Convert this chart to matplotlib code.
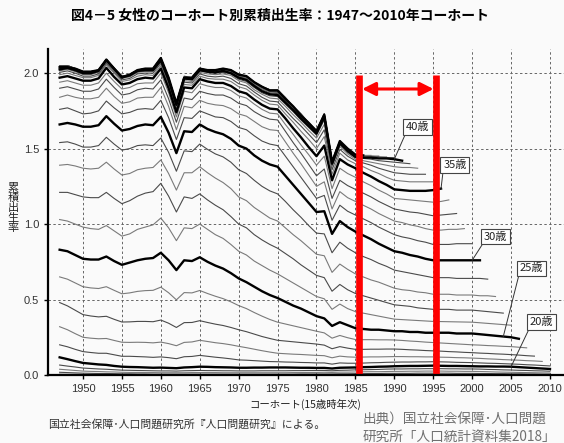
import matplotlib
matplotlib.use("Agg")
import matplotlib.pyplot as plt

# ============================================================
# DATOS: 累積出生率 por edad (una lista por edad, cohortes 1947-)
# ============================================================

cohort_years = list(range(1947, 2011))
x_ticks = list(range(1950, 2011, 5))
y_ticks = [0.0, 0.5, 1.0, 1.5, 2.0]

age15 = [0.002, 0.002, 0.001, 0.001, 0.001, 0.001, 0.001, 0.001, 0.001, 0.001,
         0.001, 0.001, 0.001, 0.001, 0.001, 0.001, 0.001, 0.001, 0.001, 0.001,
         0.001, 0.001, 0.001, 0.001, 0.001, 0.001, 0.001, 0.001, 0.001, 0.001,
         0.001, 0.001, 0.001, 0.001, 0.001, 0.001, 0.001, 0.001, 0.001, 0.001,
         0.001, 0.001, 0.001, 0.001, 0.001, 0.001, 0.001, 0.001, 0.001, 0.001,
         0.001, 0.001, 0.001, 0.001, 0.001, 0.001, 0.001, 0.001, 0.001, 0.001,
         0.001, 0.001, 0.001, 0.001]
age16 = [0.006, 0.005, 0.005, 0.004, 0.004, 0.004, 0.003, 0.003, 0.003, 0.003,
         0.003, 0.002, 0.002, 0.002, 0.002, 0.002, 0.002, 0.002, 0.002, 0.002,
         0.002, 0.002, 0.002, 0.002, 0.002, 0.002, 0.002, 0.002, 0.002, 0.002,
         0.002, 0.002, 0.002, 0.002, 0.002, 0.002, 0.003, 0.003, 0.003, 0.003,
         0.003, 0.003, 0.004, 0.004, 0.004, 0.004, 0.004, 0.004, 0.004, 0.004,
         0.004, 0.004, 0.004, 0.004, 0.004, 0.003, 0.003, 0.003, 0.003, 0.003,
         0.003, 0.002, 0.002, 0.002]
age17 = [0.018, 0.016, 0.014, 0.012, 0.011, 0.010, 0.010, 0.009, 0.008, 0.008,
         0.007, 0.007, 0.006, 0.006, 0.006, 0.006, 0.006, 0.006, 0.006, 0.006,
         0.006, 0.006, 0.006, 0.006, 0.006, 0.006, 0.006, 0.006, 0.006, 0.006,
         0.006, 0.007, 0.007, 0.007, 0.007, 0.007, 0.008, 0.008, 0.009, 0.009,
         0.010, 0.010, 0.011, 0.011, 0.011, 0.011, 0.012, 0.012, 0.012, 0.012,
         0.012, 0.011, 0.011, 0.011, 0.010, 0.010, 0.009, 0.009, 0.008, 0.008,
         0.007, 0.007, 0.006, 0.006]
age18 = [0.038, 0.034, 0.030, 0.026, 0.024, 0.023, 0.021, 0.020, 0.018, 0.017,
         0.017, 0.016, 0.016, 0.015, 0.015, 0.015, 0.015, 0.016, 0.016, 0.016,
         0.016, 0.015, 0.015, 0.015, 0.015, 0.015, 0.015, 0.015, 0.015, 0.015,
         0.016, 0.016, 0.017, 0.017, 0.018, 0.017, 0.019, 0.019, 0.020, 0.021,
         0.022, 0.022, 0.023, 0.024, 0.024, 0.025, 0.025, 0.026, 0.026, 0.026,
         0.025, 0.025, 0.024, 0.024, 0.023, 0.022, 0.020, 0.019, 0.018, 0.017,
         0.016, 0.015, 0.014, 0.013]
age19 = [0.066, 0.059, 0.053, 0.046, 0.043, 0.040, 0.038, 0.035, 0.032, 0.031,
         0.030, 0.029, 0.028, 0.027, 0.027, 0.026, 0.028, 0.029, 0.030, 0.029,
         0.029, 0.028, 0.028, 0.027, 0.027, 0.027, 0.028, 0.028, 0.028, 0.028,
         0.029, 0.029, 0.030, 0.030, 0.030, 0.028, 0.031, 0.032, 0.034, 0.035,
         0.036, 0.037, 0.039, 0.040, 0.040, 0.041, 0.041, 0.042, 0.042, 0.042,
         0.041, 0.041, 0.040, 0.040, 0.039, 0.037, 0.036, 0.034, 0.033, 0.031,
         0.030, 0.028, 0.027, 0.025]
age20 = [0.117, 0.105, 0.092, 0.080, 0.075, 0.070, 0.067, 0.060, 0.055, 0.053,
         0.052, 0.050, 0.048, 0.049, 0.047, 0.045, 0.050, 0.052, 0.055, 0.054,
         0.052, 0.051, 0.050, 0.048, 0.048, 0.049, 0.049, 0.050, 0.050, 0.050,
         0.049, 0.048, 0.048, 0.047, 0.047, 0.043, 0.048, 0.049, 0.050, 0.052,
         0.053, 0.055, 0.056, 0.058, 0.059, 0.060, 0.060, 0.061, 0.062, 0.061,
         0.060, 0.060, 0.059, 0.058, 0.057, 0.057, 0.056, 0.056, 0.055, 0.052,
         0.049, 0.046, 0.043, 0.040]
age21 = [0.200, 0.187, 0.170, 0.155, 0.149, 0.144, 0.144, 0.134, 0.124, 0.124,
         0.122, 0.120, 0.117, 0.120, 0.115, 0.108, 0.121, 0.123, 0.130, 0.124,
         0.118, 0.113, 0.107, 0.100, 0.098, 0.095, 0.092, 0.089, 0.088, 0.086,
         0.085, 0.083, 0.082, 0.080, 0.080, 0.072, 0.080, 0.078, 0.078, 0.079,
         0.081, 0.082, 0.084, 0.085, 0.086, 0.086, 0.087, 0.087, 0.088, 0.087,
         0.086, 0.084, 0.083, 0.082, 0.080, 0.078, 0.077, 0.075, 0.073, 0.071,
         0.068, 0.066, 0.063, 0.060]
age22 = [0.320, 0.300, 0.274, 0.250, 0.244, 0.240, 0.242, 0.229, 0.217, 0.216,
         0.217, 0.216, 0.213, 0.218, 0.208, 0.194, 0.216, 0.219, 0.230, 0.222,
         0.214, 0.208, 0.200, 0.190, 0.181, 0.171, 0.161, 0.152, 0.144, 0.141,
         0.138, 0.136, 0.133, 0.130, 0.128, 0.114, 0.125, 0.120, 0.118, 0.119,
         0.120, 0.120, 0.121, 0.122, 0.122, 0.121, 0.121, 0.120, 0.120, 0.118,
         0.117, 0.115, 0.114, 0.112, 0.110, 0.107, 0.105, 0.102, 0.100, 0.098,
         0.095, 0.093, 0.090]
age23 = [0.480, 0.458, 0.429, 0.400, 0.391, 0.385, 0.389, 0.369, 0.351, 0.352,
         0.355, 0.355, 0.353, 0.364, 0.343, 0.315, 0.347, 0.348, 0.360, 0.348,
         0.337, 0.328, 0.315, 0.300, 0.287, 0.271, 0.255, 0.242, 0.230, 0.225,
         0.220, 0.215, 0.210, 0.205, 0.198, 0.174, 0.188, 0.178, 0.170, 0.170,
         0.171, 0.171, 0.172, 0.172, 0.170, 0.167, 0.165, 0.162, 0.160, 0.158,
         0.155, 0.153, 0.150, 0.148, 0.145, 0.143, 0.140, 0.138, 0.135, 0.132,
         0.128, 0.125]
age24 = [0.650, 0.635, 0.610, 0.585, 0.577, 0.573, 0.585, 0.561, 0.538, 0.544,
         0.554, 0.559, 0.561, 0.582, 0.545, 0.498, 0.546, 0.544, 0.560, 0.540,
         0.522, 0.506, 0.485, 0.460, 0.440, 0.414, 0.390, 0.368, 0.350, 0.338,
         0.326, 0.314, 0.302, 0.290, 0.279, 0.244, 0.262, 0.247, 0.235, 0.234,
         0.234, 0.233, 0.233, 0.232, 0.229, 0.225, 0.222, 0.218, 0.215, 0.212,
         0.209, 0.206, 0.203, 0.200, 0.198, 0.195, 0.193, 0.190, 0.188, 0.184,
         0.180]
age25 = [0.83, 0.82, 0.795, 0.77, 0.765, 0.765, 0.785, 0.755, 0.73, 0.745,
         0.76, 0.77, 0.775, 0.81, 0.76, 0.695, 0.76, 0.755, 0.78, 0.75,
         0.725, 0.705, 0.675, 0.64, 0.615, 0.585, 0.555, 0.53, 0.51, 0.485,
         0.46, 0.44, 0.415, 0.39, 0.375, 0.325, 0.35, 0.33, 0.31, 0.305,
         0.30, 0.30, 0.295, 0.29, 0.29, 0.285, 0.285, 0.28, 0.28, 0.28,
         0.28, 0.275, 0.275, 0.275, 0.27, 0.265, 0.26, 0.255, 0.25, 0.24]
age26 = [1.03, 1.02, 1.0, 0.98, 0.97, 0.965, 0.99, 0.955, 0.92, 0.935,
         0.965, 0.98, 0.995, 1.04, 0.975, 0.89, 0.975, 0.97, 1.0, 0.965,
         0.93, 0.905, 0.865, 0.82, 0.795, 0.755, 0.725, 0.695, 0.67, 0.64,
         0.61, 0.58, 0.55, 0.52, 0.505, 0.435, 0.47, 0.44, 0.42, 0.41,
         0.40, 0.39, 0.38, 0.37, 0.367, 0.364, 0.361, 0.358, 0.355, 0.354,
         0.353, 0.352, 0.351, 0.35, 0.346, 0.342, 0.338, 0.334, 0.33]
age27 = [1.21, 1.21, 1.195, 1.18, 1.175, 1.175, 1.21, 1.17, 1.135, 1.155,
         1.185, 1.205, 1.215, 1.27, 1.185, 1.08, 1.18, 1.17, 1.20, 1.16,
         1.125, 1.095, 1.05, 1.00, 0.975, 0.93, 0.895, 0.865, 0.84, 0.805,
         0.77, 0.73, 0.695, 0.66, 0.645, 0.555, 0.60, 0.565, 0.54, 0.525,
         0.51, 0.495, 0.48, 0.465, 0.46, 0.455, 0.445, 0.44, 0.435, 0.435,
         0.435, 0.43, 0.43, 0.43, 0.425, 0.42, 0.415, 0.41]
age28 = [1.39, 1.395, 1.385, 1.37, 1.365, 1.37, 1.41, 1.365, 1.325, 1.335,
         1.36, 1.37, 1.375, 1.425, 1.335, 1.225, 1.34, 1.34, 1.38, 1.34,
         1.305, 1.275, 1.235, 1.18, 1.155, 1.11, 1.075, 1.04, 1.02, 0.975,
         0.93, 0.89, 0.845, 0.80, 0.79, 0.68, 0.735, 0.70, 0.67, 0.65,
         0.63, 0.615, 0.595, 0.575, 0.565, 0.56, 0.55, 0.545, 0.535, 0.535,
         0.535, 0.53, 0.53, 0.53, 0.525, 0.525, 0.52]
age29 = [1.54, 1.545, 1.53, 1.51, 1.51, 1.52, 1.575, 1.53, 1.49, 1.50,
         1.52, 1.525, 1.52, 1.57, 1.475, 1.35, 1.485, 1.48, 1.53, 1.495,
         1.465, 1.445, 1.41, 1.36, 1.335, 1.29, 1.25, 1.22, 1.20, 1.15,
         1.095, 1.045, 0.99, 0.94, 0.935, 0.81, 0.88, 0.84, 0.81, 0.785,
         0.765, 0.74, 0.72, 0.695, 0.685, 0.675, 0.665, 0.655, 0.645, 0.645,
         0.645, 0.64, 0.64, 0.64, 0.64, 0.635]
age30 = [1.66, 1.67, 1.66, 1.645, 1.645, 1.655, 1.715, 1.665, 1.62, 1.63,
         1.65, 1.66, 1.655, 1.71, 1.605, 1.47, 1.615, 1.61, 1.66, 1.63,
         1.61, 1.595, 1.565, 1.52, 1.50, 1.455, 1.42, 1.395, 1.38, 1.32,
         1.26, 1.20, 1.14, 1.08, 1.085, 0.935, 1.02, 0.98, 0.95, 0.925,
         0.90, 0.87, 0.845, 0.82, 0.81, 0.795, 0.785, 0.77, 0.76, 0.76,
         0.76, 0.76, 0.76, 0.76, 0.76]
age31 = [1.76, 1.77, 1.75, 1.73, 1.735, 1.75, 1.815, 1.77, 1.73, 1.74,
         1.76, 1.765, 1.76, 1.82, 1.705, 1.56, 1.705, 1.70, 1.75, 1.73,
         1.71, 1.705, 1.68, 1.64, 1.625, 1.585, 1.55, 1.53, 1.52, 1.45,
         1.38, 1.31, 1.24, 1.17, 1.19, 1.025, 1.125, 1.085, 1.06, 1.035,
         1.01, 0.98, 0.955, 0.93, 0.915, 0.905, 0.89, 0.88, 0.865, 0.865,
         0.865, 0.87, 0.87, 0.87]
age32 = [1.84, 1.855, 1.84, 1.83, 1.83, 1.84, 1.90, 1.845, 1.80, 1.81,
         1.835, 1.84, 1.84, 1.905, 1.78, 1.625, 1.78, 1.77, 1.82, 1.80,
         1.79, 1.785, 1.765, 1.73, 1.715, 1.68, 1.645, 1.625, 1.62, 1.545,
         1.47, 1.40, 1.325, 1.25, 1.28, 1.10, 1.215, 1.175, 1.15, 1.125,
         1.10, 1.07, 1.045, 1.02, 1.01, 0.995, 0.985, 0.97, 0.96, 0.96,
         0.965, 0.965, 0.97]
age33 = [1.90, 1.91, 1.895, 1.88, 1.88, 1.895, 1.96, 1.905, 1.855, 1.865,
         1.89, 1.90, 1.895, 1.955, 1.83, 1.675, 1.835, 1.825, 1.88, 1.865,
         1.855, 1.855, 1.835, 1.80, 1.785, 1.745, 1.715, 1.695, 1.69, 1.615,
         1.54, 1.47, 1.395, 1.32, 1.365, 1.17, 1.29, 1.255, 1.23, 1.205,
         1.18, 1.15, 1.125, 1.10, 1.09, 1.08, 1.075, 1.065, 1.055, 1.06,
         1.065, 1.07]
age34 = [1.94, 1.95, 1.935, 1.92, 1.92, 1.935, 2.0, 1.945, 1.895, 1.905,
         1.93, 1.935, 1.935, 2.0, 1.87, 1.71, 1.88, 1.87, 1.93, 1.915,
         1.905, 1.905, 1.885, 1.85, 1.835, 1.795, 1.76, 1.735, 1.73, 1.66,
         1.595, 1.525, 1.46, 1.39, 1.45, 1.235, 1.37, 1.335, 1.31, 1.28,
         1.255, 1.225, 1.20, 1.17, 1.165, 1.16, 1.155, 1.15, 1.145, 1.15,
         1.16]
age35 = [1.97, 1.98, 1.965, 1.95, 1.95, 1.965, 2.035, 1.975, 1.925, 1.935,
         1.96, 1.97, 1.965, 2.03, 1.90, 1.74, 1.905, 1.90, 1.96, 1.945,
         1.935, 1.935, 1.915, 1.88, 1.865, 1.825, 1.79, 1.765, 1.76, 1.70,
         1.635, 1.575, 1.51, 1.45, 1.52, 1.29, 1.43, 1.395, 1.37, 1.34,
         1.315, 1.285, 1.26, 1.23, 1.225, 1.22, 1.22, 1.22, 1.225, 1.235]
age36 = [1.99, 2.0, 1.985, 1.97, 1.97, 1.985, 2.055, 2.0, 1.945, 1.955,
         1.98, 1.99, 1.985, 2.05, 1.92, 1.755, 1.925, 1.92, 1.98, 1.965,
         1.96, 1.96, 1.945, 1.91, 1.895, 1.855, 1.82, 1.795, 1.79, 1.73,
         1.675, 1.615, 1.56, 1.50, 1.58, 1.33, 1.47, 1.425, 1.40, 1.38,
         1.355, 1.335, 1.31, 1.29, 1.285, 1.28, 1.28, 1.28, 1.28]
age37 = [2.005, 2.015, 2.0, 1.98, 1.98, 1.995, 2.065, 2.01, 1.955, 1.965,
         1.995, 2.0, 2.0, 2.065, 1.935, 1.77, 1.94, 1.935, 1.995, 1.98,
         1.975, 1.98, 1.965, 1.93, 1.915, 1.875, 1.84, 1.815, 1.81, 1.755,
         1.70, 1.65, 1.595, 1.54, 1.625, 1.36, 1.495, 1.45, 1.42, 1.405,
         1.39, 1.37, 1.355, 1.34, 1.335, 1.33, 1.33, 1.33]
age38 = [2.015, 2.025, 2.01, 1.99, 1.99, 2.005, 2.075, 2.02, 1.965, 1.975,
         2.005, 2.01, 2.01, 2.075, 1.945, 1.78, 1.95, 1.945, 2.005, 1.995,
         1.99, 1.995, 1.985, 1.95, 1.935, 1.89, 1.86, 1.835, 1.83, 1.78,
         1.725, 1.675, 1.62, 1.57, 1.66, 1.38, 1.515, 1.465, 1.43, 1.42,
         1.41, 1.40, 1.39, 1.38, 1.375, 1.375, 1.37]
age39 = [2.02, 2.03, 2.015, 1.995, 1.995, 2.01, 2.08, 2.02, 1.97, 1.98,
         2.01, 2.015, 2.015, 2.08, 1.95, 1.785, 1.96, 1.955, 2.015, 2.005,
         2.0, 2.005, 1.995, 1.96, 1.945, 1.905, 1.87, 1.85, 1.845, 1.795,
         1.745, 1.69, 1.64, 1.59, 1.69, 1.39, 1.53, 1.475, 1.44, 1.435,
         1.43, 1.42, 1.415, 1.41, 1.405, 1.40]
age40 = [2.025, 2.035, 2.02, 2.0, 2.0, 2.015, 2.085, 2.03, 1.975, 1.985,
         2.015, 2.02, 2.02, 2.085, 1.955, 1.79, 1.965, 1.96, 2.02, 2.01,
         2.005, 2.015, 2.0, 1.97, 1.955, 1.915, 1.88, 1.86, 1.855, 1.805,
         1.755, 1.70, 1.65, 1.60, 1.71, 1.40, 1.535, 1.485, 1.445, 1.44,
         1.44, 1.435, 1.435, 1.43, 1.42]
age41 = [2.03, 2.04, 2.02, 2.005, 2.005, 2.015, 2.09, 2.03, 1.975, 1.99,
         2.015, 2.025, 2.02, 2.09, 1.96, 1.79, 1.965, 1.96, 2.02, 2.01,
         2.01, 2.015, 2.005, 1.975, 1.965, 1.92, 1.89, 1.87, 1.865, 1.81,
         1.76, 1.71, 1.655, 1.605, 1.715, 1.405, 1.54, 1.49, 1.45, 1.45,
         1.445, 1.445, 1.44, 1.44]
age42 = [2.035, 2.045, 2.025, 2.005, 2.005, 2.015, 2.09, 2.03, 1.975, 1.99,
         2.015, 2.025, 2.02, 2.09, 1.96, 1.795, 1.97, 1.965, 2.025, 2.015,
         2.015, 2.02, 2.01, 1.98, 1.97, 1.925, 1.895, 1.875, 1.87, 1.82,
         1.765, 1.715, 1.66, 1.61, 1.72, 1.41, 1.545, 1.49, 1.45, 1.45,
         1.45, 1.445, 1.445]
age43 = [2.04, 2.05, 2.03, 2.01, 2.01, 2.02, 2.09, 2.03, 1.98, 1.99,
         2.02, 2.03, 2.03, 2.10, 1.965, 1.80, 1.97, 1.965, 2.025, 2.015,
         2.015, 2.025, 2.015, 1.985, 1.97, 1.93, 1.90, 1.88, 1.875, 1.82,
         1.77, 1.715, 1.665, 1.61, 1.72, 1.41, 1.545, 1.49, 1.455, 1.455,
         1.45, 1.45]
age44 = [2.04, 2.05, 2.03, 2.01, 2.01, 2.02, 2.09, 2.03, 1.98, 1.99,
         2.02, 2.03, 2.03, 2.10, 1.97, 1.80, 1.97, 1.97, 2.03, 2.02,
         2.02, 2.03, 2.02, 1.985, 1.97, 1.93, 1.90, 1.88, 1.88, 1.83,
         1.77, 1.72, 1.67, 1.615, 1.725, 1.41, 1.55, 1.49, 1.455, 1.455,
         1.455]
age45 = [2.04, 2.04, 2.03, 2.01, 2.01, 2.02, 2.09, 2.03, 1.97, 1.99,
         2.02, 2.03, 2.03, 2.10, 1.97, 1.80, 1.97, 1.97, 2.03, 2.02,
         2.02, 2.03, 2.02, 1.99, 1.98, 1.94, 1.91, 1.885, 1.885, 1.83,
         1.78, 1.72, 1.67, 1.615, 1.725, 1.41, 1.55, 1.50, 1.46, 1.455]
age46 = [2.04, 2.04, 2.03, 2.01, 2.01, 2.02, 2.09, 2.03, 1.97, 1.99,
         2.02, 2.03, 2.03, 2.10, 1.97, 1.80, 1.97, 1.97, 2.03, 2.02,
         2.02, 2.03, 2.02, 1.99, 1.98, 1.94, 1.91, 1.89, 1.885, 1.83,
         1.78, 1.725, 1.67, 1.62, 1.73, 1.42, 1.55, 1.50, 1.46]
age47 = [2.04, 2.05, 2.03, 2.01, 2.01, 2.02, 2.09, 2.03, 1.97, 1.99,
         2.02, 2.03, 2.03, 2.10, 1.97, 1.80, 1.97, 1.97, 2.03, 2.02,
         2.02, 2.03, 2.02, 1.99, 1.98, 1.94, 1.91, 1.89, 1.89, 1.83,
         1.78, 1.73, 1.67, 1.62, 1.73, 1.42, 1.55, 1.50]
age48 = [2.04, 2.05, 2.03, 2.01, 2.01, 2.02, 2.09, 2.03, 1.97, 1.99,
         2.02, 2.03, 2.03, 2.10, 1.97, 1.80, 1.97, 1.97, 2.03, 2.02,
         2.02, 2.03, 2.02, 1.99, 1.98, 1.94, 1.91, 1.89, 1.89, 1.83,
         1.78, 1.73, 1.67, 1.62, 1.73, 1.42, 1.55]
age49 = [2.05, 2.05, 2.03, 2.01, 2.01, 2.02, 2.09, 2.03, 1.98, 1.99,
         2.02, 2.03, 2.03, 2.10, 1.97, 1.80, 1.98, 1.97, 2.03, 2.02,
         2.02, 2.03, 2.02, 1.99, 1.98, 1.94, 1.91, 1.89, 1.89, 1.84,
         1.78, 1.73, 1.67, 1.62, 1.73, 1.42]

bold_ages = [20, 25, 30, 35, 40, 45]
highlight_years = [1985.5, 1995.4]
label_points = [(40, 1990), (35, 1996), (30, 2000), (25, 2004), (20, 2005)]

rates_by_age = {
    15: age15, 16: age16, 17: age17, 18: age18, 19: age19,
    20: age20, 21: age21, 22: age22, 23: age23, 24: age24,
    25: age25, 26: age26, 27: age27, 28: age28, 29: age29,
    30: age30, 31: age31, 32: age32, 33: age33, 34: age34,
    35: age35, 36: age36, 37: age37, 38: age38, 39: age39,
    40: age40, 41: age41, 42: age42, 43: age43, 44: age44,
    45: age45, 46: age46, 47: age47, 48: age48, 49: age49,
}

# ============================================================
# GRÁFICA
# ============================================================

plt.rcParams["font.family"] = ["Noto Sans CJK JP", "DejaVu Sans"]

fig = plt.figure(figsize=(5.64, 4.43), dpi=100, facecolor="#fafafa")
ax = fig.add_axes([0.0856, 0.1535, 0.9144, 0.7359])
ax.set_facecolor("#fafafa")

for age, values in rates_by_age.items():
    years = cohort_years[:len(values)]
    if age in bold_ages:
        ax.plot(years, values, color="black", lw=1.7, zorder=3)
    else:
        color = "#4a4a4a" if age % 2 else "#7a7a7a"
        ax.plot(years, values, color=color, lw=0.8, zorder=2)

ax.set_xlim(1945.54, 2011.8)
ax.set_ylim(0, 2.16)
ax.set_xticks(x_ticks)
ax.set_yticks(y_ticks)
ax.set_xticklabels([str(y) for y in x_ticks], family="Liberation Sans")
ax.set_yticklabels([f"{v:.1f}" for v in y_ticks], family="Liberation Sans")
ax.tick_params(direction="out", length=3, width=1, labelsize=8,
               labelcolor="#333333")
ax.grid(True, linestyle=(0, (2.5, 2.5)), color="#666666", lw=0.7, zorder=1)

for side in ["top", "right"]:
    ax.spines[side].set_visible(False)
for side in ["left", "bottom"]:
    ax.spines[side].set_linewidth(1.6)
    ax.spines[side].set_zorder(6)

# barras rojas y flecha
ax.vlines(highlight_years, 0, 1.99, color="#ff0000", lw=4.8, zorder=5)
ax.annotate(
    "",
    xy=(highlight_years[1], 1.895),
    xytext=(highlight_years[0], 1.895),
    arrowprops=dict(arrowstyle="<|-|>", color="#ff0000", lw=2.2,
                    mutation_scale=20, shrinkA=2, shrinkB=2),
    zorder=5,
)

# etiquetas de edad
label_offsets = {40: (17, 23), 35: (10, 17), 30: (17, 17),
                 25: (20, 49), 20: (22, 32)}

for age, year in label_points:
    values = rates_by_age[age]
    value = values[cohort_years.index(year)]
    ax.annotate(
        f"{age}歳",
        xy=(year, value),
        xytext=label_offsets[age],
        textcoords="offset points",
        ha="center",
        va="center",
        fontsize=8,
        color="#222222",
        bbox=dict(boxstyle="square,pad=0.25", fc="white", ec="#444444",
                  lw=0.8),
        arrowprops=dict(arrowstyle="-", color="#333333", lw=0.7,
                        relpos=(0, 0), shrinkA=0, shrinkB=0),
        zorder=7,
    )

# textos
fig.text(0.497, 0.964,
         "図4－5 女性のコーホート別累積出生率：1947～2010年コーホート",
         ha="center", va="center", fontsize=10, fontweight="bold")
fig.text(0.023, 0.53, "累\n積\n出\n生\n率", ha="center", va="center",
         fontsize=8, linespacing=1.0, color="#222222")
fig.text(0.541, 0.088, "コーホート(15歳時年次)", ha="center", va="center",
         fontsize=7.5, color="#222222")
fig.text(0.085, 0.041, "国立社会保障･人口問題研究所『人口問題研究』による。",
         ha="left", va="center", fontsize=7.8, color="#333333")
fig.text(0.643, 0.054, "出典）国立社会保障･人口問題", ha="left",
         va="center", fontsize=9.8, color="#707070")
fig.text(0.643, 0.014, "研究所「人口統計資料集2018」", ha="left",
         va="center", fontsize=9.8, color="#707070")

fig.savefig("out.png", dpi=100, facecolor=fig.get_facecolor())
